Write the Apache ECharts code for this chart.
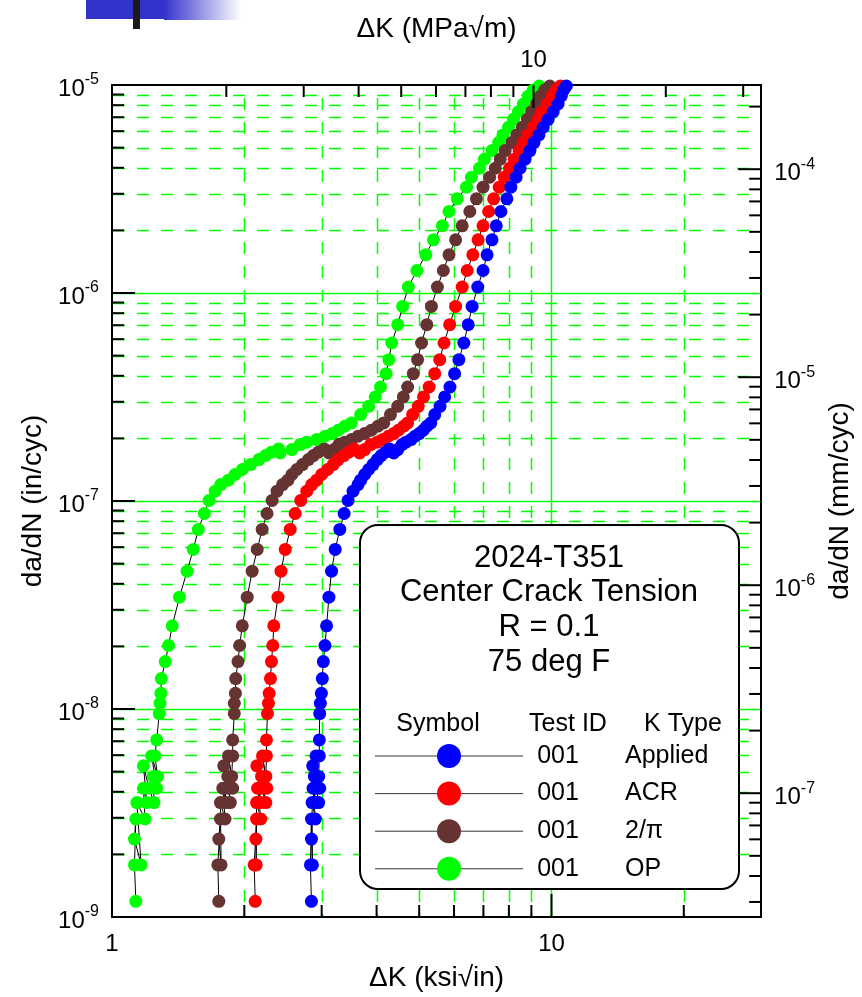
<!DOCTYPE html>
<html>
<head>
<meta charset="utf-8">
<title>2024-T351 fatigue crack growth</title>
<script src="https://cdn.jsdelivr.net/npm/echarts@6/dist/echarts.min.js"></script>
<style>
  html, body { margin: 0; padding: 0; background: #ffffff; }
  #chart { width: 862px; height: 997px; }
</style>
</head>
<body>
<div id="chart"></div>
<script>
// ---- Test 001, 2024-T351 centre crack tension, R = 0.1, 75 deg F ----
// One da/dN record; the four K definitions share it, only ΔK differs.
const dadN = [
  1.19e-9, 1.78e-9, 2.96e-9, 2.37e-9, 1.78e-9, 3.55e-9, 2.96e-9, 4.16e-9, 3.55e-9, 5.33e-9,
  4.16e-9, 3.55e-9, 4.74e-9, 4.16e-9, 5.95e-9, 4.74e-9, 5.95e-9, 7.10e-9, 9.51e-9, 1.066e-8,
  1.19e-8,
  1.40e-8, 1.69e-8, 2.02e-8, 2.51e-8, 3.45e-8, 4.60e-8, 5.85e-8, 7.30e-8, 8.71e-8, 1.006e-7,
  1.115e-7, 1.20e-7,
  1.259e-7, 1.341e-7, 1.417e-7, 1.497e-7, 1.582e-7, 1.654e-7, 1.716e-7, 1.780e-7, 1.703e-7, 1.767e-7,
  1.868e-7, 1.917e-7, 1.974e-7, 2.048e-7, 2.110e-7, 2.188e-7, 2.287e-7, 2.373e-7, 2.603e-7, 2.853e-7,
  3.164e-7, 3.533e-7, 4.095e-7, 4.781e-7, 5.748e-7, 7.039e-7, 8.622e-7,
  1.068e-6, 1.283e-6, 1.526e-6, 1.802e-6, 2.104e-6, 2.465e-6, 2.836e-6, 3.226e-6, 3.602e-6, 3.980e-6,
  4.396e-6, 4.838e-6, 5.286e-6, 5.754e-6, 6.263e-6, 6.842e-6, 7.447e-6, 8.104e-6, 8.853e-6, 9.462e-6,
  9.890e-6
];

// ΔK (ksi√in) for each K type, point by point against dadN
const kApplied = [
  2.843, 2.828, 2.843, 2.843, 2.858, 2.853, 2.902, 2.867, 2.902, 2.862,
  2.917, 2.953, 2.887, 2.969, 2.912, 2.953, 2.963, 2.963, 2.969, 2.979,
  2.995,
  3.010, 3.026, 3.052, 3.078, 3.116, 3.159, 3.220, 3.299, 3.374, 3.445,
  3.536, 3.629,
  3.680, 3.757, 3.836, 3.924, 4.013, 4.097, 4.191, 4.279, 4.376, 4.468,
  4.570, 4.666, 4.789, 4.889, 5.000, 5.106, 5.203, 5.313, 5.425, 5.577,
  5.715, 5.875, 6.019, 6.156, 6.318, 6.462, 6.598,
  6.796, 6.986, 7.135, 7.322, 7.487, 7.672, 7.915, 8.081, 8.308, 8.482,
  8.706, 8.935, 9.123, 9.363, 9.576, 9.828, 10.09, 10.35, 10.53, 10.66,
  10.81
];
const kACR = [
  2.118, 2.106, 2.133, 2.125, 2.129, 2.133, 2.181, 2.144, 2.181, 2.136,
  2.189, 2.239, 2.189, 2.250, 2.200, 2.239, 2.246, 2.246, 2.258, 2.270,
  2.278,
  2.294, 2.306, 2.322, 2.334, 2.386, 2.424, 2.479, 2.544, 2.611, 2.689,
  2.775, 2.848,
  2.922, 3.000, 3.094, 3.187, 3.271, 3.369, 3.458, 3.555, 3.661, 3.757,
  3.876, 4.013, 4.133, 4.256, 4.376, 4.484, 4.610, 4.707, 4.831, 4.975,
  5.114, 5.267, 5.425, 5.568, 5.695, 5.865, 6.051,
  6.263, 6.430, 6.622, 6.808, 6.986, 7.194, 7.385, 7.606, 7.806, 8.025,
  8.222, 8.439, 8.630, 8.827, 9.091, 9.331, 9.526, 9.777, 10.03, 10.26,
  10.48
];
const k2pi = [
  1.750, 1.741, 1.765, 1.750, 1.771, 1.765, 1.808, 1.787, 1.818, 1.796,
  1.840, 1.859, 1.834, 1.882, 1.840, 1.872, 1.882, 1.882, 1.898, 1.898,
  1.909,
  1.912, 1.935, 1.952, 1.979, 2.031, 2.084, 2.140, 2.196, 2.253, 2.314,
  2.374, 2.445,
  2.513, 2.567, 2.634, 2.713, 2.799, 2.872, 2.948, 3.041, 3.116, 3.198,
  3.282, 3.386, 3.506, 3.629, 3.757, 3.890, 4.027, 4.154, 4.301, 4.468,
  4.601, 4.707, 4.848, 4.958, 5.062, 5.203, 5.331,
  5.501, 5.675, 5.845, 6.051, 6.263, 6.520, 6.749, 6.986, 7.232, 7.449,
  7.645, 7.846, 8.124, 8.337, 8.586, 8.812, 9.013, 9.251, 9.445, 9.661,
  9.913
];
const kOP = [
  1.133, 1.125, 1.133, 1.125, 1.165, 1.139, 1.189, 1.179, 1.200, 1.179,
  1.214, 1.246, 1.242, 1.264, 1.231, 1.270, 1.252, 1.264, 1.281, 1.286,
  1.292,
  1.295, 1.322, 1.345, 1.371, 1.424, 1.482, 1.531, 1.572, 1.622, 1.664,
  1.717, 1.768,
  1.840, 1.905, 1.979, 2.067, 2.159, 2.235, 2.306, 2.394, 2.415, 2.567,
  2.680, 2.775, 2.922, 3.052, 3.170, 3.271, 3.386, 3.506, 3.680, 3.836,
  3.971, 4.083, 4.206, 4.264, 4.331, 4.468, 4.585,
  4.723, 4.940, 5.177, 5.388, 5.645, 5.845, 6.103, 6.407, 6.575, 6.855,
  7.036, 7.322, 7.580, 7.753, 7.984, 8.194, 8.410, 8.630, 8.857, 9.091,
  9.380
];

// Legend / annotation text
const titleLines = ['2024-T351', 'Center Crack Tension', 'R = 0.1', '75 deg F'];
const tableHeader = ['Symbol', 'Test ID', 'K Type'];
const testIds = ['001', '001', '001', '001'];
const kTypes = ['Applied', 'ACR', '2/π', 'OP'];
const kColors = ['#0000ff', '#ff0000', '#663333', '#00ff00'];

// Axis ranges and tick values
const KSI_TO_MPA = 1.0988;   // 1 ksi√in in MPa√m
const IN_TO_MM = 25.4;
const ksiRange = [1, 30];
const inRange = [1e-9, 1e-5];
const ksiMajor = [10];
const ksiMinor = [2, 3, 4, 5, 6, 7, 8, 9, 20];
const mpaMajor = [10];
const mpaMinor = [2, 3, 4, 5, 6, 7, 8, 9, 20, 30];
const inMajor = [1e-8, 1e-7, 1e-6];
const mmMajor = [1e-7, 1e-6, 1e-5, 1e-4];

const FONT = '"Liberation Sans", Arial, Helvetica, sans-serif';

function minorsOf(decades, lo, hi) {
  const out = [];
  decades.forEach(d => { for (let m = 2; m <= 9; m++) { const v = m * d; if (v > lo && v < hi) out.push(v); } });
  return out;
}
const inMinor = minorsOf([1e-9, 1e-8, 1e-7, 1e-6], inRange[0], inRange[1]);
const mmMinor = minorsOf([1e-8, 1e-7, 1e-6, 1e-5, 1e-4], inRange[0] * IN_TO_MM, inRange[1] * IN_TO_MM);

function isDecade(v) { const l = Math.log10(v); return Math.abs(l - Math.round(l)) < 1e-6; }
const expLabel = v => isDecade(v) ? '{b|10}{s|' + Math.round(Math.log10(v)) + '}' : '';
const plainLabel = v => isDecade(v) ? String(Math.round(v)) : '';

const richExp = {
  b: { fontFamily: FONT, fontSize: 24, lineHeight: 24, padding: [8, 0, 0, 0], color: '#000' },
  s: { fontFamily: FONT, fontSize: 16, lineHeight: 16, padding: [0, 0, 10, 0], color: '#000' }
};
const frameLine = { show: true, lineStyle: { color: '#000', width: 2 } };
const nameStyle = { fontFamily: FONT, fontSize: 28, color: '#000' };
function hidden() { return { show: false }; }

function makeSeries(name, ks, color) {
  return {
    type: 'line', name: name,
    xAxisIndex: 0, yAxisIndex: 0,
    data: ks.map((k, i) => [k, dadN[i]]),
    symbol: 'circle', symbolSize: 13, showAllSymbol: true,
    lineStyle: { color: '#000', width: 1 },
    itemStyle: { color: color, borderWidth: 0 },
    emphasis: { disabled: true },
    z: 2
  };
}

const chart = echarts.init(document.getElementById('chart'), null, { renderer: 'canvas' });

chart.setOption({
  animation: false,
  backgroundColor: '#ffffff',
  grid: { left: 112, top: 85, right: 95, bottom: 79, containLabel: false },
  xAxis: [
    {
      type: 'log', logBase: 10, min: ksiRange[0], max: ksiRange[1], position: 'bottom',
      axisLine: frameLine, axisTick: hidden(), splitLine: hidden(), minorTick: hidden(), minorSplitLine: hidden(),
      axisLabel: { formatter: plainLabel, fontFamily: FONT, fontSize: 24, color: '#000', margin: 15 },
      name: 'ΔK (ksi√in)', nameLocation: 'middle', nameGap: 47, nameTextStyle: nameStyle
    },
    {
      type: 'log', logBase: 10, min: ksiRange[0] * KSI_TO_MPA, max: ksiRange[1] * KSI_TO_MPA, position: 'top',
      axisLine: frameLine, axisTick: hidden(), splitLine: hidden(), minorTick: hidden(), minorSplitLine: hidden(),
      axisLabel: { formatter: plainLabel, fontFamily: FONT, fontSize: 24, color: '#000', margin: 13 },
      name: 'ΔK (MPa√m)', nameLocation: 'middle', nameGap: 40, nameTextStyle: nameStyle
    }
  ],
  yAxis: [
    {
      type: 'log', logBase: 10, min: inRange[0], max: inRange[1], position: 'left',
      axisLine: frameLine, axisTick: hidden(), splitLine: hidden(), minorTick: hidden(), minorSplitLine: hidden(),
      axisLabel: { formatter: expLabel, rich: richExp, margin: 13 },
      name: 'da/dN (in/cyc)', nameLocation: 'middle', nameRotate: 90, nameGap: 65, nameTextStyle: nameStyle
    },
    {
      type: 'log', logBase: 10, min: inRange[0] * IN_TO_MM, max: inRange[1] * IN_TO_MM, position: 'right',
      axisLine: frameLine, axisTick: hidden(), splitLine: hidden(), minorTick: hidden(), minorSplitLine: hidden(),
      axisLabel: { formatter: expLabel, rich: richExp, margin: 13 },
      name: 'da/dN (mm/cyc)', nameLocation: 'middle', nameRotate: 90, nameGap: 62, nameTextStyle: nameStyle
    }
  ],
  series: [
    makeSeries('OP', kOP, kColors[3]),
    makeSeries('2/π', k2pi, kColors[2]),
    makeSeries('ACR', kACR, kColors[1]),
    makeSeries('Applied', kApplied, kColors[0])
  ]
});

// ---- grid lines and tick marks, placed through the axes' own scales ----
const xPix = v => chart.convertToPixel({ xAxisIndex: 0 }, v);
const xTopPix = v => chart.convertToPixel({ xAxisIndex: 1 }, v);
const yPix = v => chart.convertToPixel({ yAxisIndex: 0 }, v);
const yRightPix = v => chart.convertToPixel({ yAxisIndex: 1 }, v);
const crisp = p => Math.round(p) + 0.5;

const L = xPix(ksiRange[0]), R = xPix(ksiRange[1]);
const T = yPix(inRange[1]), B = yPix(inRange[0]);

const GRID_GREEN = '#00ff00';
const DASH = [12, 12];
const els = [];

function gridLine(x1, y1, x2, y2, dash, dashOffset) {
  els.push({
    type: 'polyline', silent: true, z: 1,
    shape: { points: [[x1, y1], [x2, y2]] },
    style: { stroke: GRID_GREEN, fill: null, lineWidth: 1.5, lineDash: dash, lineDashOffset: dashOffset }
  });
}

// vertical grid (ksi√in), dashes begin with a gap at the top edge
ksiMinor.forEach(v => { const x = crisp(xPix(v)); gridLine(x, T + 1, x, B - 1, DASH, 12); });
ksiMajor.forEach(v => { const x = crisp(xPix(v)); gridLine(x, T + 1, x, B - 1, [B - T, 0], 0); });
// horizontal grid (in/cyc)
inMinor.forEach(v => { const y = crisp(yPix(v)); gridLine(L + 1, y, R - 1, y, DASH, 0); });
inMajor.forEach(v => { const y = crisp(yPix(v)); gridLine(L + 1, y, R - 1, y, [R - L, 0], 0); });

// tick marks on all four sides, pointing inwards
const MINOR_LEN = 12, MAJOR_LEN = 23;
function tick(x1, y1, x2, y2) {
  els.push({
    type: 'line', silent: true, z: 3,
    shape: { x1: x1, y1: y1, x2: x2, y2: y2 },
    style: { stroke: '#000', lineWidth: 2 }
  });
}
ksiMinor.forEach(v => { const x = xPix(v); tick(x, B, x, B - MINOR_LEN); });
ksiMajor.forEach(v => { const x = xPix(v); tick(x, B, x, B - MAJOR_LEN); });
mpaMinor.forEach(v => { const x = xTopPix(v); tick(x, T, x, T + MINOR_LEN); });
mpaMajor.forEach(v => { const x = xTopPix(v); tick(x, T, x, T + MAJOR_LEN); });
inMinor.forEach(v => { const y = yPix(v); tick(L, y, L + MINOR_LEN, y); });
inMajor.forEach(v => { const y = yPix(v); tick(L, y, L + MAJOR_LEN, y); });
mmMinor.forEach(v => { const y = yRightPix(v); tick(R, y, R - MINOR_LEN, y); });
mmMajor.forEach(v => { const y = yRightPix(v); tick(R, y, R - MAJOR_LEN, y); });

// ---- header bar at the top left ----
els.push({ type: 'rect', silent: true, z: 20, shape: { x: 86, y: 0, width: 79, height: 19 }, style: { fill: '#3333cc' } });
els.push({
  type: 'rect', silent: true, z: 20, shape: { x: 164, y: 0, width: 77, height: 20 },
  style: { fill: { type: 'linear', x: 0, y: 0, x2: 1, y2: 0, colorStops: [{ offset: 0, color: '#3333cc' }, { offset: 1, color: '#ffffff' }] } }
});
els.push({ type: 'rect', silent: true, z: 21, shape: { x: 133, y: 0, width: 7, height: 29 }, style: { fill: '#1a1a1a' } });

// ---- annotation box with the symbol table ----
function txt(text, x, y, size, align) {
  els.push({
    type: 'text', silent: true, z: 11,
    style: {
      text: text, x: x, y: y, font: size + 'px ' + FONT, fill: '#000',
      align: align, verticalAlign: 'middle', textAlign: align, textVerticalAlign: 'middle'
    }
  });
}
els.push({
  type: 'rect', silent: true, z: 10,
  shape: { x: 360, y: 525, width: 379, height: 364, r: 18 },
  style: { fill: '#ffffff', stroke: '#000', lineWidth: 2 }
});
titleLines.forEach((t, i) => txt(t, 549, 558 + i * 34.7, 31, 'center'));
txt(tableHeader[0], 438, 724, 25, 'center');
txt(tableHeader[1], 568, 724, 25, 'center');
txt(tableHeader[2], 683, 724, 25, 'center');
kTypes.forEach((k, i) => {
  const y = 756 + i * 37.6;
  els.push({ type: 'line', silent: true, z: 11, shape: { x1: 375, y1: y, x2: 523, y2: y }, style: { stroke: '#333', lineWidth: 1 } });
  els.push({ type: 'circle', silent: true, z: 12, shape: { cx: 449, cy: y, r: 12 }, style: { fill: kColors[i] } });
  txt(testIds[i], 558, y, 25, 'center');
  txt(k, 625, y, 25, 'left');
});

chart.setOption({ graphic: { elements: els } });
</script>
</body>
</html>
